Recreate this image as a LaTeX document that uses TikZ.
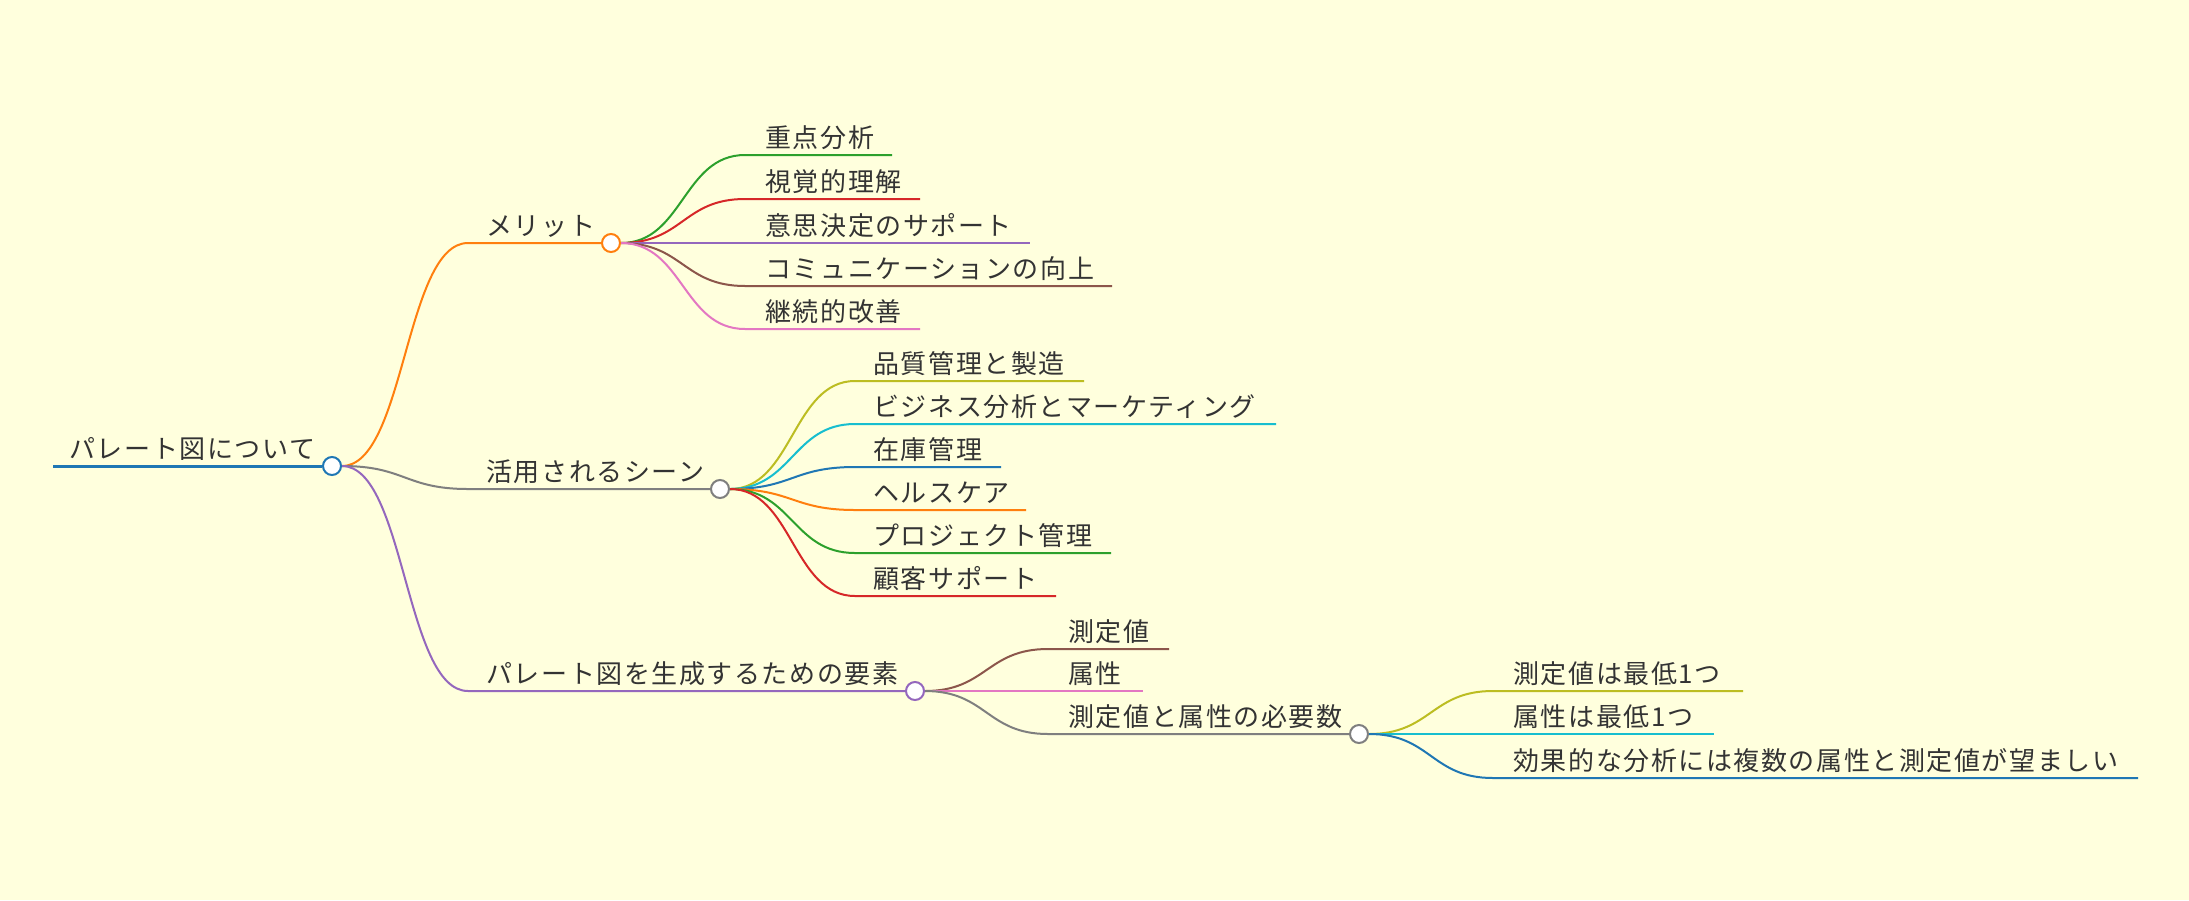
\documentclass[tikz,border=0pt]{standalone}
\usepackage{fontspec}
\setmainfont{Noto Sans CJK JP}[LetterSpace=6]
\usetikzlibrary{calc}
\definecolor{bgyellow}{RGB}{255,255,221}
\definecolor{txtgray}{RGB}{51,51,51}
\definecolor{mmblue}{HTML}{1F77B4}
\definecolor{mmorange}{HTML}{FF7F0E}
\definecolor{mmgreen}{HTML}{2CA02C}
\definecolor{mmred}{HTML}{D62728}
\definecolor{mmpurple}{HTML}{9467BD}
\definecolor{mmbrown}{HTML}{8C564B}
\definecolor{mmpink}{HTML}{E377C2}
\definecolor{mmgray}{HTML}{7F7F7F}
\definecolor{mmolive}{HTML}{BCBD22}
\definecolor{mmcyan}{HTML}{17BECF}
\pgfdeclarelayer{lines}
\pgfsetlayers{lines,main}

\begin{document}
\begin{tikzpicture}[x=0.5pt, y=-0.5pt,
    lbl/.style={anchor=base west, inner sep=0pt, text=txtgray, font=\fontsize{13pt}{15pt}\selectfont},
    hub/.style={circle, draw, fill=white, line width=1pt, minimum size=9pt, inner sep=0pt},
    branch/.style={line width=1pt},
    mmlink/.style={to path={.. controls ($(\tikztostart)!.5!(\tikztotarget |- \tikztostart)$)
        and ($(\tikztotarget)!.5!(\tikztostart |- \tikztotarget)$) .. (\tikztotarget)}}]

  % Root
  \coordinate (r0) at (53,466);
  \node[hub, draw=mmblue] (rdot) at (332,466) {};
  \node[lbl] (root) at (69,458) {パレート図について};

  % Level 1
  \coordinate (m0) at (468,243);
  \node[hub, draw=mmorange] (mdot) at (611,243) {};
  \node[lbl] (merit) at (486,235) {メリット};

  \coordinate (k0) at (468,489);
  \node[hub, draw=mmgray] (kdot) at (720,489) {};
  \node[lbl] (scene) at (486,481) {活用されるシーン};

  \coordinate (y0) at (468,691);
  \node[hub, draw=mmpurple] (ydot) at (915,691) {};
  \node[lbl] (elem) at (486,683) {パレート図を生成するための要素};

  % Merits
  \coordinate (m1s) at (745,155); \coordinate (m1e) at (892,155);
  \node[lbl] (m1) at (765,147) {重点分析};
  \coordinate (m2s) at (745,199); \coordinate (m2e) at (920,199);
  \node[lbl] (m2) at (765,191) {視覚的理解};
  \coordinate (m3s) at (745,243); \coordinate (m3e) at (1030,243);
  \node[lbl] (m3) at (765,235) {意思決定のサポート};
  \coordinate (m4s) at (745,286); \coordinate (m4e) at (1112,286);
  \node[lbl] (m4) at (765,278) {コミュニケーションの向上};
  \coordinate (m5s) at (745,329); \coordinate (m5e) at (920,329);
  \node[lbl] (m5) at (765,321) {継続的改善};

  % Scenes
  \coordinate (k1s) at (855,381); \coordinate (k1e) at (1084,381);
  \node[lbl] (k1) at (873,373) {品質管理と製造};
  \coordinate (k2s) at (855,424); \coordinate (k2e) at (1276,424);
  \node[lbl] (k2) at (873,416) {ビジネス分析とマーケティング};
  \coordinate (k3s) at (855,467); \coordinate (k3e) at (1001,467);
  \node[lbl] (k3) at (873,459) {在庫管理};
  \coordinate (k4s) at (855,510); \coordinate (k4e) at (1026,510);
  \node[lbl] (k4) at (873,502) {ヘルスケア};
  \coordinate (k5s) at (855,553); \coordinate (k5e) at (1111,553);
  \node[lbl] (k5) at (873,545) {プロジェクト管理};
  \coordinate (k6s) at (855,596); \coordinate (k6e) at (1056,596);
  \node[lbl] (k6) at (873,588) {顧客サポート};

  % Elements
  \coordinate (y1s) at (1048,649); \coordinate (y1e) at (1169,649);
  \node[lbl] (y1) at (1068,641) {測定値};
  \coordinate (y2s) at (1048,691); \coordinate (y2e) at (1143,691);
  \node[lbl] (y2) at (1068,683) {属性};
  \coordinate (y3s) at (1048,734);
  \node[hub, draw=mmgray] (ndot) at (1359,734) {};
  \node[lbl] (y3) at (1068,726) {測定値と属性の必要数};

  % Required numbers
  \coordinate (n1s) at (1493,691); \coordinate (n1e) at (1743,691);
  \node[lbl] (n1) at (1513,683) {測定値は最低1つ};
  \coordinate (n2s) at (1493,734); \coordinate (n2e) at (1714,734);
  \node[lbl] (n2) at (1513,726) {属性は最低1つ};
  \coordinate (n3s) at (1493,778); \coordinate (n3e) at (2138,778);
  \node[lbl] (n3) at (1513,770) {効果的な分析には複数の属性と測定値が望ましい};

  \begin{pgfonlayer}{lines}
    \fill[bgyellow] (0,0) rectangle (2189,900);
    \draw[mmblue, line width=1.5pt] (r0) -- (rdot);
    \draw[branch, mmorange] (rdot.east) to[mmlink] (m0) -- (mdot);
    \draw[branch, mmgray] (rdot.east) to[mmlink] (k0) -- (kdot);
    \draw[branch, mmpurple] (rdot.east) to[mmlink] (y0) -- (ydot);

    \draw[branch, mmgreen] (mdot.east) to[mmlink] (m1s) -- (m1e);
    \draw[branch, mmred] (mdot.east) to[mmlink] (m2s) -- (m2e);
    \draw[branch, mmpurple] (mdot.east) -- (m3e);
    \draw[branch, mmbrown] (mdot.east) to[mmlink] (m4s) -- (m4e);
    \draw[branch, mmpink] (mdot.east) to[mmlink] (m5s) -- (m5e);

    \draw[branch, mmolive] (kdot.east) to[mmlink] (k1s) -- (k1e);
    \draw[branch, mmcyan] (kdot.east) to[mmlink] (k2s) -- (k2e);
    \draw[branch, mmblue] (kdot.east) to[mmlink] (k3s) -- (k3e);
    \draw[branch, mmorange] (kdot.east) to[mmlink] (k4s) -- (k4e);
    \draw[branch, mmgreen] (kdot.east) to[mmlink] (k5s) -- (k5e);
    \draw[branch, mmred] (kdot.east) to[mmlink] (k6s) -- (k6e);

    \draw[branch, mmbrown] (ydot.east) to[mmlink] (y1s) -- (y1e);
    \draw[branch, mmpink] (ydot.east) -- (y2e);
    \draw[branch, mmgray] (ydot.east) to[mmlink] (y3s) -- (ndot);

    \draw[branch, mmolive] (ndot.east) to[mmlink] (n1s) -- (n1e);
    \draw[branch, mmcyan] (ndot.east) -- (n2e);
    \draw[branch, mmblue] (ndot.east) to[mmlink] (n3s) -- (n3e);
  \end{pgfonlayer}
\end{tikzpicture}
\end{document}
